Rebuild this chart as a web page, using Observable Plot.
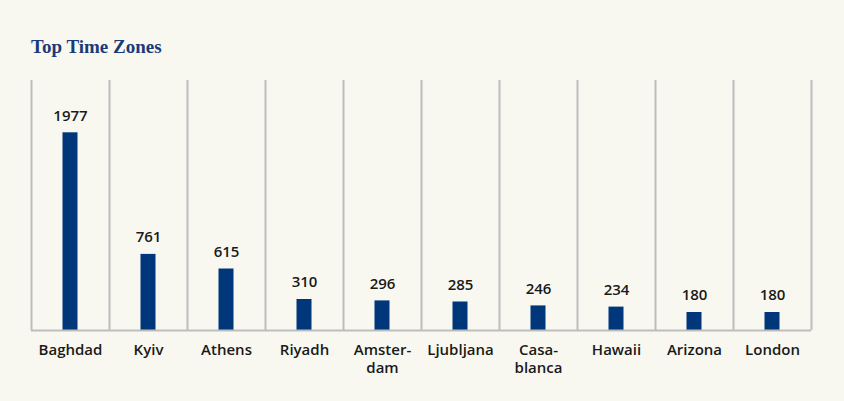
<!DOCTYPE html>
<html>
<head>
<meta charset="utf-8">
<script src="https://cdn.jsdelivr.net/npm/d3@7"></script>
<script src="https://cdn.jsdelivr.net/npm/@observablehq/plot@0.6"></script>
<style>
  html, body { margin: 0; padding: 0; background: #f9f8f0; }
  #title {
    font-family: "Liberation Serif", "DejaVu Serif", serif;
    font-weight: bold;
    font-size: 19px;
    color: #1b3a78;
    height: 60px;
    box-sizing: border-box;
    padding: 37px 0 0 31px;
    line-height: 19px;
  }
  svg { display: block; }
</style>
</head>
<body>
<div id="title">Top Time Zones</div>
<div id="chart"></div>
<script>
// Time zones and their counts
const zones = ["Baghdad", "Kyiv", "Athens", "Riyadh", "Amster-\ndam", "Ljubljana", "Casa-\nblanca", "Hawaii", "Arizona", "London"];
const counts = [1977, 761, 615, 310, 296, 285, 246, 234, 180, 180];

const data = zones.map((zone, i) => ({zone, count: counts[i]}));

const width = 844;
const height = 341;
const marginLeft = 31;
const marginRight = 33;
const band = (width - marginLeft - marginRight) / zones.length;
const barWidth = 15;
const inset = (band - barWidth) / 2;
const gridColor = "#bdbdbd";
const font = "'Open Sans', sans-serif";

const chart = Plot.plot({
  width,
  height,
  marginTop: 20,
  marginBottom: 71,
  marginLeft,
  marginRight,
  style: {background: "transparent", fontFamily: font},
  x: {domain: zones, padding: 0, axis: null},
  y: {domain: [0, 2500], axis: null},
  marks: [
    // column separators
    Plot.ruleX(zones, {x: d => d, dx: -band / 2, y1: 0, y2: 2500, stroke: gridColor, strokeWidth: 2}),
    Plot.ruleX(zones.slice(-1), {x: d => d, dx: band / 2, y1: 0, y2: 2500, stroke: gridColor, strokeWidth: 2}),
    Plot.barY(data, {x: "zone", y: "count", fill: "#00377a", insetLeft: inset, insetRight: inset}),
    Plot.ruleY([0], {stroke: gridColor, strokeWidth: 2}),
    // value labels
    Plot.text(data, {x: "zone", y: "count", text: d => String(d.count), dy: -17, lineAnchor: "middle",
      fontSize: 15, fontWeight: 600, fill: "#1a1a1a"}),
    // category labels
    Plot.text(data, {x: "zone", y: 0, text: "zone", dy: 12, lineAnchor: "top", lineHeight: 1.2,
      fontSize: 15, fontWeight: 600, fill: "#1a1a1a"})
  ]
});

document.getElementById("chart").append(chart);
</script>
</body>
</html>
